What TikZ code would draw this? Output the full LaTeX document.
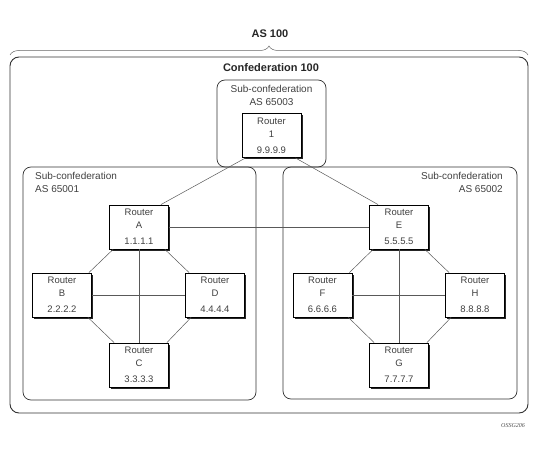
\documentclass[tikz,border=0pt]{standalone}
\usepackage{fontspec}
\setmainfont{Liberation Sans}
\newfontfamily\tagfont{Liberation Serif}
\usetikzlibrary{shadows,decorations.pathreplacing}
\begin{document}
\begin{tikzpicture}[x=1pt,y=-1pt,
		router/.style={draw=black,line width=0.8pt,fill=white,minimum width=59pt,minimum height=44pt,
			align=center,text=black!75,font=\fontsize{9.5}{13}\selectfont,
			general shadow={fill=black!85,shadow xshift=1.8pt,shadow yshift=-1.8pt}},
		link/.style={draw=black!65,line width=0.5pt},
		subconf/.style={draw=black!80,line width=0.7pt,rounded corners=8pt},
		conf/.style={draw=black!80,line width=0.9pt,rounded corners=9pt},
		boxlabel/.style={inner sep=0pt,text=black!75,font=\fontsize{10}{13}\selectfont},
		title/.style={inner sep=0pt,text=black!85,font=\fontsize{11}{13}\selectfont\bfseries}]
		\useasboundingbox (0,0) rectangle (541,460);
		% containers
		\draw[decorate,decoration={brace,amplitude=9pt},draw=black!60,line width=0.5pt] (10,55) -- (528,55);
		\draw[conf]    ( 10, 57) rectangle (528,413);
		\draw[subconf] (217, 80) rectangle (326,167);
		\draw[subconf] ( 23,167) rectangle (256,400);
		\draw[subconf] (283,167) rectangle (517,399);
		\node[title] (as)    at (270,34) {AS 100};
		\node[title] (confd) at (271,68) {Confederation 100};
		\node[boxlabel,anchor=north,align=center]      (sub3) at (271.5,85) {Sub-confederation\\AS 65003};
		\node[boxlabel,anchor=north west,align=left]   (sub1) at (35,172)   {Sub-confederation\\AS 65001};
		\node[boxlabel,anchor=north east,align=right]  (sub2) at (503,172)  {Sub-confederation\\AS 65002};
		% routers
		\path
			 (271.5,135.5) node[router] (r1) {Router\\1\\[3pt]9.9.9.9}
			 (139,  227)   node[router] (ra) {Router\\A\\[3pt]1.1.1.1}
			+(-77,   68)   node[router] (rb) {Router\\B\\[3pt]2.2.2.2}
			+( 76,   68)   node[router] (rd) {Router\\D\\[3pt]4.4.4.4}
			+(  0,  138)   node[router] (rc) {Router\\C\\[3pt]3.3.3.3}
			++(260,   0)   node[router] (re) {Router\\E\\[3pt]5.5.5.5}
			+(-76.5, 68)   node[router] (rf) {Router\\F\\[3pt]6.6.6.6}
			+( 76,   68)   node[router] (rh) {Router\\H\\[3pt]8.8.8.8}
			+(  0,  138)   node[router] (rg) {Router\\G\\[3pt]7.7.7.7}
		;
		\node[font=\tagfont\itshape\fontsize{6}{7}\selectfont,text=black!70] (tag) at (513,426) {OSSG206};
		% links
		\draw[link] ([xshift= 4pt]r1.south west) -- ([xshift=-8pt]ra.north east);
		\draw[link] ([xshift=-6pt]r1.south east) -- ([xshift= 9pt]re.north west);
		\draw[link] (ra.east)                    -- (re.west);
		\draw[link] (ra.south)                   -- (rc.north);
		\draw[link] (rb.east)                    -- (rd.west);
		\draw[link] ([xshift= 4pt]ra.south west) -- ([xshift=-3pt]rb.north east);
		\draw[link] ([xshift=-4pt]ra.south east) -- ([xshift= 4pt]rd.north west);
		\draw[link] ([xshift=-4pt]rb.south east) -- ([xshift= 5pt]rc.north west);
		\draw[link] ([xshift= 6pt]rd.south west) -- ([xshift=-2pt]rc.north east);
		\draw[link] (re.south)                   -- (rg.north);
		\draw[link] (rf.east)                    -- (rh.west);
		\draw[link] ([xshift= 4pt]re.south west) -- ([xshift=-3pt]rf.north east);
		\draw[link] ([xshift=-4pt]re.south east) -- ([xshift= 4pt]rh.north west);
		\draw[link] ([xshift=-4pt]rf.south east) -- ([xshift= 5pt]rg.north west);
		\draw[link] ([xshift= 6pt]rh.south west) -- ([xshift=-2pt]rg.north east);
\end{tikzpicture}
\end{document}
